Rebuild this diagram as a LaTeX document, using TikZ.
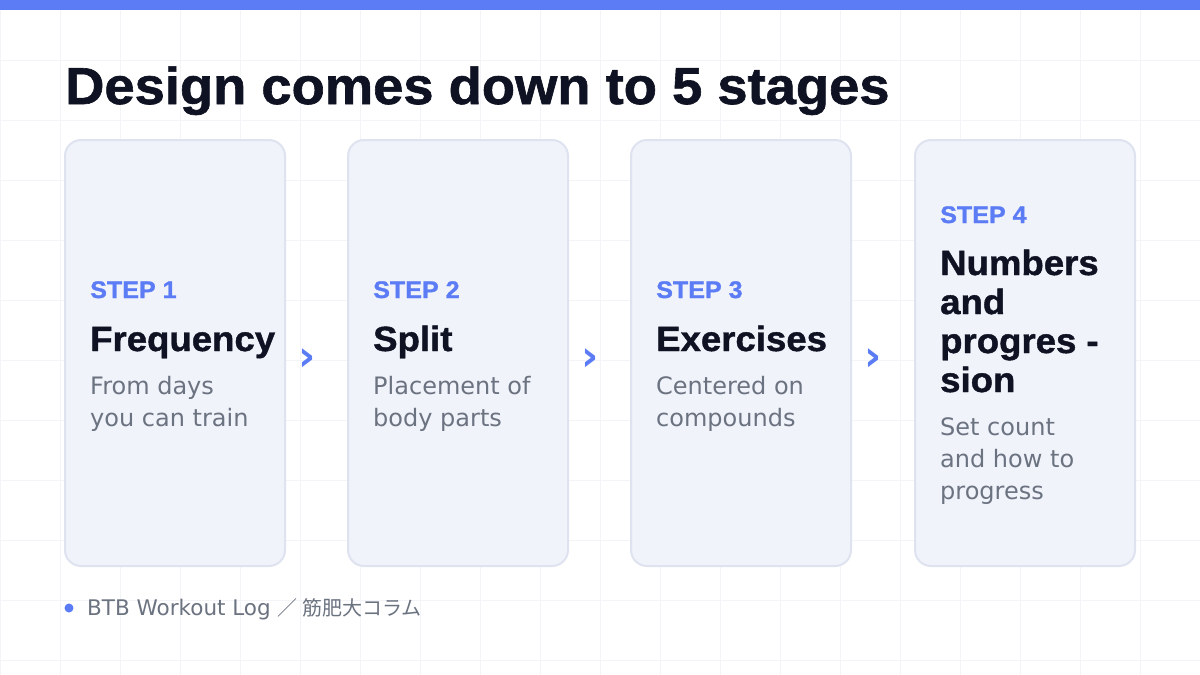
\documentclass[tikz,border=0pt]{standalone}
\usepackage{fontspec}
\setmainfont{Liberation Sans}
\newfontfamily\headfont{Liberation Sans}[FakeStretch=1.045, FakeBold=1.2]
\newfontfamily\bodyfont{DejaVu Sans}
\newfontfamily\cjk{Noto Sans CJK JP}
\usetikzlibrary{positioning}

\definecolor{accent}{HTML}{5B7CF5}
\definecolor{ink}{HTML}{0F1222}
\definecolor{muted}{HTML}{6B7280}
\definecolor{cardbg}{HTML}{F1F3FB}
\definecolor{cardline}{HTML}{DFE3F0}
\definecolor{gridc}{HTML}{F3F4F7}

\begin{document}
\begin{tikzpicture}[x=1pt, y=-1pt,
  card/.style={draw=cardline, fill=cardbg, line width=2pt, rounded corners=16pt,
    minimum width=220pt, minimum height=426pt, inner sep=0pt},
  steplbl/.style={anchor=base west, inner sep=0pt, text=accent,
    font=\fontsize{24}{28}\selectfont\headfont\bfseries},
  head/.style={anchor=base west, inner sep=0pt, align=left, text=ink,
    font=\fontsize{35}{39}\selectfont\headfont\bfseries},
  desc/.style={anchor=base west, inner sep=0pt, align=left, text=muted,
    font=\fontsize{24}{32}\selectfont\bodyfont},
  chev/.style={text=accent, inner sep=0pt, font=\fontsize{42}{42}\selectfont\bodyfont\bfseries}]
  % Background, grid and top bar
  \useasboundingbox (0,0) rectangle (1200,675);
  \fill[white] (0,0) rectangle (1200,675);
  \draw[gridc, line width=1pt] (0,0) grid[step=60pt] (1200,675);
  \fill[accent] (0,0) rectangle (1200,10);

  % Title
  \node[anchor=base west, inner sep=0pt, text=ink, font=\fontsize{52}{52}\selectfont\headfont\bfseries]
    (title) at (65,104) {Design comes down to 5 stages};

  % Cards
  \node[card] (c1) at (175,353) {};
  \node[card] (c2) at (458,353) {};
  \node[card] (c3) at (741,353) {};
  \node[card] (c4) at (1025,353) {};

  % Step 1 (multi-line nodes sit on their last line)
  \node[steplbl] (s1) at (90,298) {STEP 1};
  \node[head] (h1) at (90,351) {Frequency};
  \node[desc] (d1) at (90,426) {From days\\you can train};

  % Step 2
  \node[steplbl] (s2) at (373,298) {STEP 2};
  \node[head] (h2) at (373,351) {Split};
  \node[desc] (d2) at (373,426) {Placement of\\body parts};

  % Step 3
  \node[steplbl] (s3) at (656,298) {STEP 3};
  \node[head] (h3) at (656,351) {Exercises};
  \node[desc] (d3) at (656,426) {Centered on\\compounds};

  % Step 4
  \node[steplbl] (s4) at (940,223) {STEP 4};
  \node[head] (h4) at (940,392) {Numbers\\and\\progres -\\sion};
  \node[desc] (d4) at (940,499) {Set count\\and how to\\progress};

  % Chevrons between cards
  \node[chev] (a1) at (307,360) {›};
  \node[chev] (a2) at (590,360) {›};
  \node[chev] (a3) at (873,360) {›};

  % Footer
  \fill[accent] (69,608) circle (4.5);
  \node[anchor=base west, inner sep=0pt, text=muted, font=\fontsize{21.5}{22}\selectfont\bodyfont]
    (foot) at (87,615) {BTB Workout Log {\cjk\fontsize{20}{22}\selectfont ／ 筋肥大コラム}};
\end{tikzpicture}
\end{document}
